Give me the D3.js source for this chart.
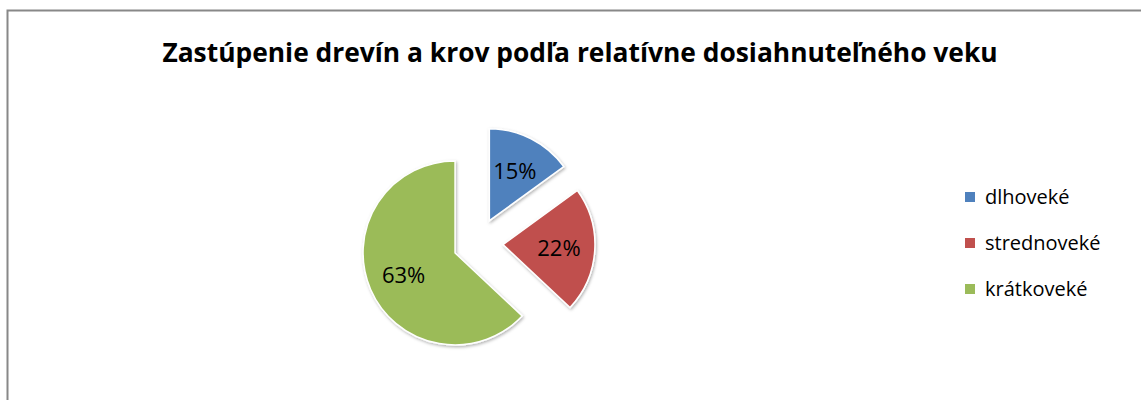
<!DOCTYPE html>
<html>
<head>
<meta charset="utf-8">
<script src="https://cdn.jsdelivr.net/npm/d3@7"></script>
<style>
  body { margin: 0; background: #fff; }
  svg { display: block; }
</style>
</head>
<body>
<div id="chart-area"></div>
<script>
// ** Data **
var categories = ["dlhoveké", "strednoveké", "krátkoveké"];
var shares = [15, 22, 63];
var colors = ["#4F81BD", "#C0504D", "#9BBB59"];
var titleText = "Zastúpenie drevín a krov podľa relatívne dosiahnuteľného veku";

// ** Dimensions **
var width = 1141;
var height = 400;
var center = { x: 478, y: 243 };
var radius = 92;
var explode = 25;
var fontFamily = "'Open Sans', 'DejaVu Sans', sans-serif";

var svg = d3.select("#chart-area")
	.append("svg")
	.attr("width", width)
	.attr("height", height);

// soft shadow under slices
var defs = svg.append("defs");
var filter = defs.append("filter")
	.attr("id", "shadow")
	.attr("x", "-20%").attr("y", "-20%")
	.attr("width", "140%").attr("height", "140%");
filter.append("feDropShadow")
	.attr("dx", 1).attr("dy", 1.5)
	.attr("stdDeviation", 1.5)
	.attr("flood-color", "#000")
	.attr("flood-opacity", 0.3);

// Chart border (right and bottom edges sit outside the view)
svg.append("path")
	.attr("d", "M7.5," + height + "V10.5H" + (width + 5))
	.attr("fill", "none")
	.attr("stroke", "#888")
	.attr("stroke-width", 2);

// Title, fitted to the reference width
var title = svg.append("text")
	.attr("x", 580)
	.attr("y", 62)
	.attr("text-anchor", "middle")
	.attr("font-family", fontFamily)
	.attr("font-weight", "bold")
	.attr("font-size", 24)
	.attr("fill", "#000")
	.text(titleText);
var tw = title.node().getComputedTextLength();
title.attr("font-size", 24 * 836 / tw);

// ** Pie **
var data = categories.map(function(c, i){
	return { name: c, value: shares[i], color: colors[i] };
});

var pie = d3.pie()
	.sort(null)
	.value(function(d){ return d.value; });

var arc = d3.arc()
	.innerRadius(0)
	.outerRadius(radius);

var labelArc = d3.arc()
	.innerRadius(radius * 0.61)
	.outerRadius(radius * 0.61);

var g = svg.append("g")
	.attr("transform", "translate(" + center.x + "," + center.y + ")");

var slices = g.selectAll("g.slice")
	.data(pie(data))
	.enter()
	.append("g")
	.attr("class", "slice")
	.attr("transform", function(d){
		var mid = (d.startAngle + d.endAngle) / 2;
		return "translate(" + (Math.sin(mid) * explode) + "," + (-Math.cos(mid) * explode) + ")";
	});

slices.append("path")
	.attr("d", arc)
	.attr("fill", function(d){ return d.data.color; })
	.attr("stroke", "#fff")
	.attr("stroke-width", 1.5)
	.attr("filter", "url(#shadow)");

slices.append("text")
	.attr("transform", function(d){
		return "translate(" + labelArc.centroid(d) + ")";
	})
	.attr("dy", "0.36em")
	.attr("text-anchor", "middle")
	.attr("font-family", fontFamily)
	.attr("font-size", 22)
	.attr("fill", "#000")
	.text(function(d){ return d.data.value + "%"; });

// ** Legend **
var legendRowHeight = 46;
var legend = svg.append("g")
	.attr("transform", "translate(965, 197)");

data.forEach(function(d, i){
	var row = legend.append("g")
		.attr("transform", "translate(0," + (i * legendRowHeight) + ")");
	row.append("rect")
		.attr("x", 0)
		.attr("y", -5)
		.attr("width", 10)
		.attr("height", 10)
		.attr("fill", d.color);
	row.append("text")
		.attr("x", 20)
		.attr("y", 0)
		.attr("dy", "0.35em")
		.attr("font-family", fontFamily)
		.attr("font-size", 20)
		.attr("fill", "#000")
		.text(d.name);
});
</script>
</body>
</html>
